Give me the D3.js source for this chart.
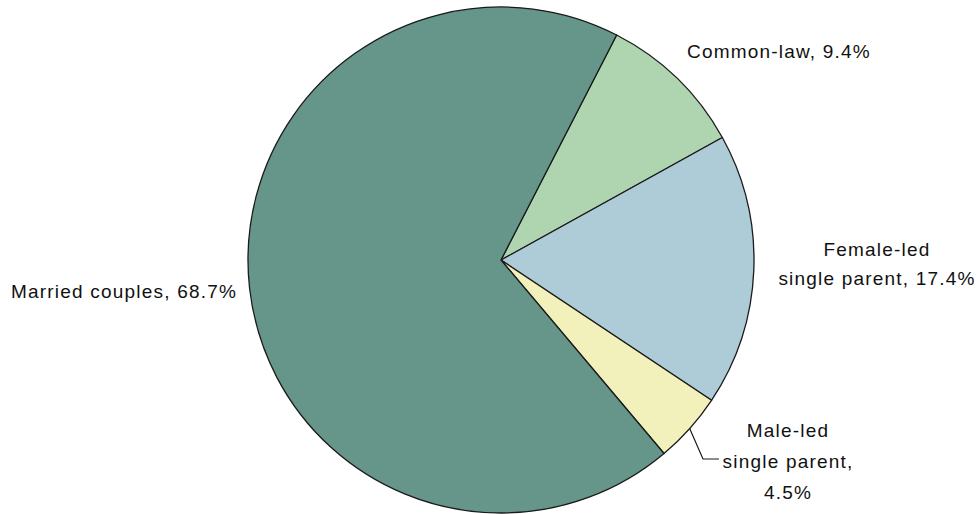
<!DOCTYPE html>
<html>
<head>
<meta charset="utf-8">
<script src="https://cdn.jsdelivr.net/npm/d3@7"></script>
<style>
  html, body { margin: 0; padding: 0; background: #ffffff; }
  svg { display: block; }
  .lbl { font-family: "Liberation Sans", Arial, sans-serif; font-size: 19px; letter-spacing: 1.2px; fill: #111111; }
</style>
</head>
<body>
<svg id="chart" width="977" height="514"></svg>
<script>
// Family structure shares (percent), drawn clockwise
const categories = ["Common-law", "Female-led single parent", "Male-led single parent", "Married couples"];
const shares = [9.4, 17.4, 4.5, 68.7];
const colors = ["#aed4b0", "#aecbd8", "#f2f0bb", "#659689"];
const labelLines = [
  ["Common-law, 9.4%"],
  ["Female-led", "single parent, 17.4%"],
  ["Male-led", "single parent,", "4.5%"],
  ["Married couples, 68.7%"]
];

const W = 977, H = 514;
const cx = 501, cy = 260, R = 253;
const startDeg = 27.2;

const svg = d3.select("#chart");
const g = svg.append("g").attr("transform", `translate(${cx},${cy})`);

const data = categories.map((c, i) => ({ name: c, value: shares[i], color: colors[i], lines: labelLines[i] }));

const pie = d3.pie()
  .sort(null)
  .value(d => d.value)
  .startAngle(startDeg * Math.PI / 180)
  .endAngle(startDeg * Math.PI / 180 + 2 * Math.PI);

const arc = d3.arc().innerRadius(0).outerRadius(R);
const arcs = pie(data);

g.selectAll("path.slice")
  .data(arcs)
  .join("path")
  .attr("class", "slice")
  .attr("d", arc)
  .attr("fill", d => d.data.color)
  .attr("stroke", "#1a1a1a")
  .attr("stroke-width", 1.3)
  .attr("stroke-linejoin", "round");

// Label placement (page coordinates): anchor, x, first baseline, line step
const labelLayout = [
  { anchor: "start",  x: 687, y: 58,  step: 29 },
  { anchor: "middle", x: 877, y: 256, step: 29 },
  { anchor: "middle", x: 788, y: 437, step: 31 },
  { anchor: "start",  x: 11,  y: 298, step: 29 }
];

const labels = svg.append("g");
arcs.forEach((a, i) => {
  const L = labelLayout[i];
  const t = labels.append("text")
    .attr("class", "lbl")
    .attr("text-anchor", L.anchor)
    .attr("x", L.x)
    .attr("y", L.y);
  a.data.lines.forEach((line, j) => {
    t.append("tspan")
      .attr("x", L.x)
      .attr("y", L.y + j * L.step)
      .text(line);
  });
});

// Leader line for the small male-led slice
const male = arcs[2];
const mid = (male.startAngle + male.endAngle) / 2;
const p0 = [cx + R * Math.sin(mid), cy - R * Math.cos(mid)];
const elbow = [703, 459];
const end = [719, 459];
svg.append("path")
  .attr("d", d3.line()([p0, elbow, end]))
  .attr("fill", "none")
  .attr("stroke", "#1a1a1a")
  .attr("stroke-width", 1.2);
</script>
</body>
</html>
